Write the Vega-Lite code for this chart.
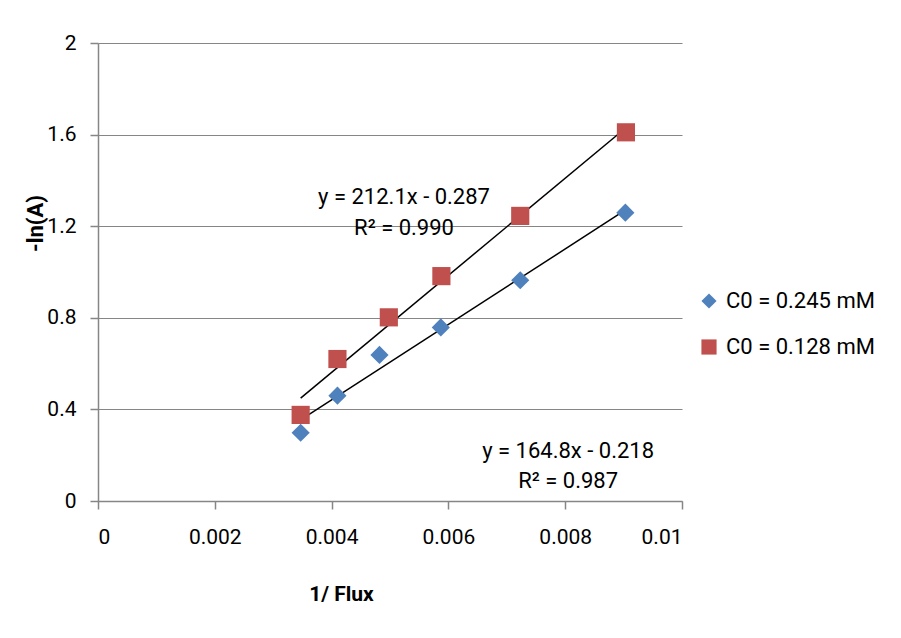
{
  "$schema": "https://vega.github.io/schema/vega-lite/v6.json",
  "width": 584,
  "height": 458,
  "autosize": {"type": "none"},
  "padding": {"left": 98, "top": 43, "right": 219, "bottom": 137},
  "background": "white",
  "config": {
    "view": {"stroke": null},
    "font": "Roboto",
    "axis": {
      "labelFont": "Roboto",
      "titleFont": "Roboto",
      "labelColor": "#000000",
      "titleColor": "#000000",
      "domainColor": "#868686",
      "tickColor": "#868686",
      "gridColor": "#868686",
      "domainWidth": 1.5,
      "tickWidth": 1.5,
      "gridWidth": 1.2
    }
  },
  "datasets": {
    "pts": [
      {"x": 0.00347, "y": 0.298, "series": "C0 = 0.245 mM"},
      {"x": 0.00410, "y": 0.460, "series": "C0 = 0.245 mM"},
      {"x": 0.00482, "y": 0.638, "series": "C0 = 0.245 mM"},
      {"x": 0.00587, "y": 0.758, "series": "C0 = 0.245 mM"},
      {"x": 0.00723, "y": 0.964, "series": "C0 = 0.245 mM"},
      {"x": 0.00903, "y": 1.259, "series": "C0 = 0.245 mM"},
      {"x": 0.00347, "y": 0.376, "series": "C0 = 0.128 mM"},
      {"x": 0.00410, "y": 0.620, "series": "C0 = 0.128 mM"},
      {"x": 0.00498, "y": 0.802, "series": "C0 = 0.128 mM"},
      {"x": 0.00588, "y": 0.982, "series": "C0 = 0.128 mM"},
      {"x": 0.00723, "y": 1.245, "series": "C0 = 0.128 mM"},
      {"x": 0.00904, "y": 1.610, "series": "C0 = 0.128 mM"}
    ],
    "fits": [
      {"x": 0.00347, "y": 0.354, "fit": "a"},
      {"x": 0.00904, "y": 1.272, "fit": "a"},
      {"x": 0.00347, "y": 0.449, "fit": "b"},
      {"x": 0.00904, "y": 1.630, "fit": "b"}
    ],
    "labels": [
      {"x": 0.00524, "y": 1.328, "text": "y = 212.1x - 0.287"},
      {"x": 0.00524, "y": 1.192, "text": "R² = 0.990"},
      {"x": 0.00805, "y": 0.218, "text": "y = 164.8x - 0.218"},
      {"x": 0.00805, "y": 0.087, "text": "R² = 0.987"}
    ]
  },
  "layer": [
    {
      "data": {"name": "fits"},
      "mark": {"type": "line", "color": "#000000", "strokeWidth": 1.5},
      "encoding": {
        "x": {
          "field": "x", "type": "quantitative",
          "scale": {"domain": [0, 0.01], "nice": false, "zero": true},
          "axis": {
            "values": [0, 0.002, 0.004, 0.006, 0.008, 0.01],
            "format": "~g",
            "grid": false,
            "tickSize": 8,
            "labelPadding": 17,
            "labelFontSize": 21,
            "title": "1/ Flux",
            "titleFontSize": 21,
            "titleFontWeight": "bold",
            "titleX": 243,
            "titleY": 99,
            "titleBaseline": "alphabetic",
            "titleAlign": "center"
          }
        },
        "y": {
          "field": "y", "type": "quantitative",
          "scale": {"domain": [0, 2], "nice": false},
          "axis": {
            "values": [0, 0.4, 0.8, 1.2, 1.6, 2],
            "format": "~g",
            "grid": true,
            "tickSize": 8,
            "labelPadding": 14,
            "labelFontSize": 21,
            "title": "-ln(A)",
            "titleFontSize": 22,
            "titleFontWeight": "bold",
            "titleAngle": -90,
            "titleX": -56,
            "titleY": 180,
            "titleAlign": "center",
            "titleBaseline": "alphabetic"
          }
        },
        "detail": {"field": "fit"}
      }
    },
    {
      "data": {"name": "pts"},
      "mark": {"type": "point", "filled": true, "opacity": 1, "size": 330},
      "encoding": {
        "x": {"field": "x", "type": "quantitative"},
        "y": {"field": "y", "type": "quantitative"},
        "color": {
          "field": "series", "type": "nominal",
          "scale": {"domain": ["C0 = 0.245 mM", "C0 = 0.128 mM"], "range": ["#4F81BD", "#C0504D"]},
          "legend": {
            "title": null,
            "orient": "none",
            "legendX": 600,
            "legendY": 247,
            "padding": 0,
            "labelFontSize": 22,
            "labelFont": "Roboto",
            "labelColor": "#000000",
            "symbolSize": 230,
            "symbolOpacity": 1,
            "rowPadding": 24,
            "labelOffset": 6
          }
        },
        "shape": {
          "field": "series", "type": "nominal",
          "scale": {"domain": ["C0 = 0.245 mM", "C0 = 0.128 mM"], "range": ["diamond", "square"]}
        }
      }
    },
    {
      "data": {"name": "labels"},
      "mark": {"type": "text", "fontSize": 22, "font": "Roboto", "color": "#000000", "align": "center", "baseline": "middle"},
      "encoding": {
        "x": {"field": "x", "type": "quantitative"},
        "y": {"field": "y", "type": "quantitative"},
        "text": {"field": "text"}
      }
    }
  ]
}
